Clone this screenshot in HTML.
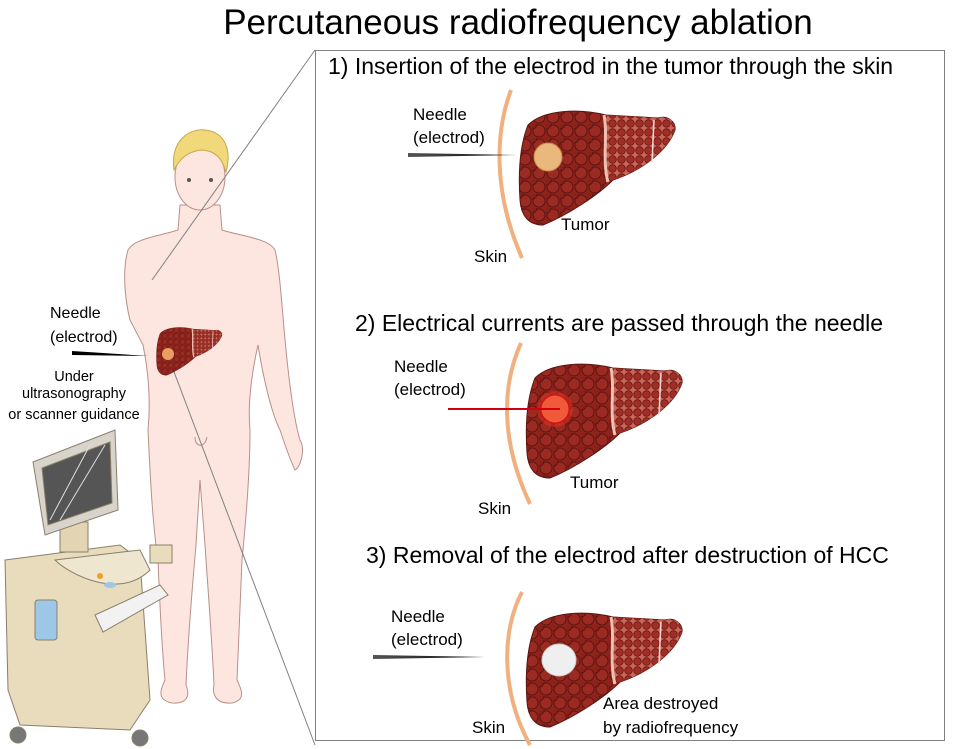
<!DOCTYPE html>
<html><head><meta charset="utf-8"><style>
html,body{margin:0;padding:0;background:#fff;}
svg{display:block;font-family:"Liberation Sans","DejaVu Sans",sans-serif;}
</style></head><body>
<svg width="955" height="749" viewBox="0 0 955 749" xmlns="http://www.w3.org/2000/svg">
<defs>
 <pattern id="lobL" width="14" height="14" patternUnits="userSpaceOnUse">
  <rect width="14" height="14" fill="#8e231c"/>
  <circle cx="7" cy="7" r="6" fill="#9a2a22" stroke="#5e1410" stroke-width="1"/>
  <circle cx="0" cy="0" r="5" fill="#8a2019" stroke="#5e1410" stroke-width="1"/>
 </pattern>
 <pattern id="lobR" width="9" height="9" patternUnits="userSpaceOnUse">
  <rect width="9" height="9" fill="#c8665a"/>
  <circle cx="4.5" cy="4.5" r="3.8" fill="#a02e26" stroke="#6a1712" stroke-width="0.8"/>
 </pattern>
 <g id="liver">
  <path d="M10,15 C25,0 60,-2 88,5 L140,8 C150,5 158,12 157,20 C150,40 125,60 95,70 C80,85 50,105 25,115 C10,115 3,105 2,90 C0,60 2,35 10,15 Z" fill="url(#lobL)" stroke="#5e1410" stroke-width="1"/>
  <path d="M88,5 L140,8 C150,5 158,12 157,20 C150,40 125,60 95,70 L88,72 Z" fill="url(#lobR)"/>
  <path d="M86,5 C90,25 84,50 90,72" stroke="#f0c0b0" stroke-width="3" fill="none"/>
  <path d="M136,10 L134,52" stroke="#f3d8d0" stroke-width="1.5"/>
 </g>
 <linearGradient id="ndl" x1="0" x2="1"><stop offset="0" stop-color="#555"/><stop offset="1" stop-color="#000"/></linearGradient>
</defs>

<text x="518" y="34" font-size="35" text-anchor="middle" fill="#000">Percutaneous radiofrequency ablation</text>

<!-- Body -->
<g stroke="#b89088" stroke-width="1" fill="#fce6df">
 <path d="M180,205 L178,230 C160,236 135,238 128,250 C122,270 125,300 130,320 L143,345 C150,380 150,410 148,430 C150,470 152,520 158,560 C160,610 162,650 165,680 C160,690 157,700 172,703 C188,704 190,695 186,685 C188,640 192,590 196,545 L200,480 L205,545 C208,590 212,640 214,685 C212,695 216,704 232,703 C246,700 242,690 237,680 C238,650 240,610 242,560 C246,520 250,470 250,430 C248,410 250,380 258,345 C262,370 270,410 280,430 C285,445 290,460 295,470 C300,468 306,450 300,440 C294,420 290,390 286,350 C282,310 280,270 275,250 C268,238 240,236 222,230 L220,205 Z"/>
</g>
<ellipse cx="200" cy="177" rx="25" ry="33" fill="#fce6df" stroke="#b89088"/>
<path d="M174,170 C170,140 190,128 205,130 C225,132 232,150 226,172 C222,158 215,150 200,150 C188,152 180,158 174,170 Z" fill="#f1d87a" stroke="#c6a84e"/>
<circle cx="189" cy="180" r="2" fill="#555"/><circle cx="211" cy="180" r="2" fill="#555"/>
<path d="M195,437 C195,448 205,448 207,437" fill="none" stroke="#b89088"/>

<!-- box & zoom lines -->
<rect x="315.5" y="50.5" width="629" height="690" fill="none" stroke="#808080" stroke-width="1"/>
<line x1="315" y1="50" x2="152" y2="280" stroke="#808080" stroke-width="1"/>
<line x1="315" y1="745" x2="165" y2="348" stroke="#808080" stroke-width="1"/>

<!-- small liver on body -->
<use href="#liver" transform="translate(156,327) scale(0.42)"/>
<circle cx="168" cy="354" r="6" fill="#e8a060"/>
<polygon points="72,351 148,356 72,355" fill="#000"/>

<!-- ultrasound machine -->
<g stroke="#8a7f6a" stroke-width="1">
 <path d="M5,560 L120,545 L140,560 L150,700 L130,730 L20,725 L8,690 Z" fill="#e9dcbc"/>
 <path d="M55,560 C70,575 120,600 150,570 L140,550 Z" fill="#efe6cf"/>
 <rect x="60" y="522" width="28" height="30" fill="#e3d5b4"/>
 <path d="M33,462 L115,430 L118,510 L45,535 Z" fill="#d8d4cc"/>
 <path d="M42,468 L110,442 L112,503 L48,525 Z" fill="#555"/>
 <path d="M95,615 L160,585 L168,595 L103,632 Z" fill="#f2f2f2"/>
 <rect x="35" y="600" width="22" height="40" rx="3" fill="#9cc7e6"/>
 <circle cx="18" cy="735" r="8" fill="#777"/><circle cx="140" cy="738" r="8" fill="#777"/>
 <rect x="150" y="545" width="22" height="18" fill="#e9dcbc"/>
</g>
<g stroke="#ddd" stroke-width="1"><line x1="50" y1="520" x2="90" y2="445"/><line x1="60" y1="520" x2="105" y2="445"/></g>
<circle cx="100" cy="576" r="3" fill="#f0a020"/><ellipse cx="110" cy="585" rx="6" ry="3" fill="#9cc7e6"/>

<text font-size="16" fill="#000">
 <tspan x="50" y="318">Needle</tspan><tspan x="50" y="342">(electrod)</tspan>
</text>
<text font-size="14.5" fill="#000" text-anchor="middle">
 <tspan x="74" y="381">Under</tspan><tspan x="74" y="398">ultrasonography</tspan><tspan x="74" y="419">or scanner guidance</tspan>
</text>

<!-- Panel 1 -->
<text x="328" y="74" font-size="23" fill="#000">1) Insertion of the electrod in the tumor through the skin</text>
<path d="M511,90 C496,130 492,190 522,258" stroke="#f1b07f" stroke-width="4" fill="none"/>
<use href="#liver" transform="translate(518,110)"/>
<circle cx="548" cy="157" r="14" fill="#eab77c" stroke="#c88a50"/>
<polygon points="408,153 518,155 408,157" fill="url(#ndl)"/>
<text font-size="17" fill="#000"><tspan x="413" y="120">Needle</tspan><tspan x="413" y="143">(electrod)</tspan></text>
<text x="561" y="230" font-size="17">Tumor</text>
<text x="474" y="262" font-size="17">Skin</text>

<!-- Panel 2 -->
<text x="355" y="331" font-size="23" fill="#000">2) Electrical currents are passed through the needle</text>
<path d="M521,343 C502,385 500,440 530,504" stroke="#f1b07f" stroke-width="4" fill="none"/>
<use href="#liver" transform="translate(525,363)"/>
<circle cx="555" cy="409" r="18" fill="#e83020" opacity="0.5"/>
<circle cx="555" cy="409" r="14" fill="#f05a3a" stroke="#d01010"/>
<line x1="448" y1="409" x2="560" y2="409" stroke="#d00010" stroke-width="2"/>
<text font-size="17" fill="#000"><tspan x="394" y="372">Needle</tspan><tspan x="394" y="395">(electrod)</tspan></text>
<text x="570" y="488" font-size="17">Tumor</text>
<text x="478" y="514" font-size="17">Skin</text>

<!-- Panel 3 -->
<text x="366" y="563" font-size="23" fill="#000">3) Removal of the electrod after destruction of HCC</text>
<path d="M522,592 C502,630 500,690 530,745" stroke="#f1b07f" stroke-width="4" fill="none"/>
<use href="#liver" transform="translate(525,612)"/>
<ellipse cx="559" cy="660" rx="17" ry="16" fill="#efefef" stroke="#ccc"/>
<polygon points="373,655 485,657 373,659" fill="url(#ndl)"/>
<text font-size="17" fill="#000"><tspan x="391" y="622">Needle</tspan><tspan x="391" y="645">(electrod)</tspan></text>
<text font-size="17" fill="#000"><tspan x="603" y="709">Area destroyed</tspan><tspan x="603" y="733">by radiofrequency</tspan></text>
<text x="472" y="733" font-size="17">Skin</text>
</svg>
</body></html>
